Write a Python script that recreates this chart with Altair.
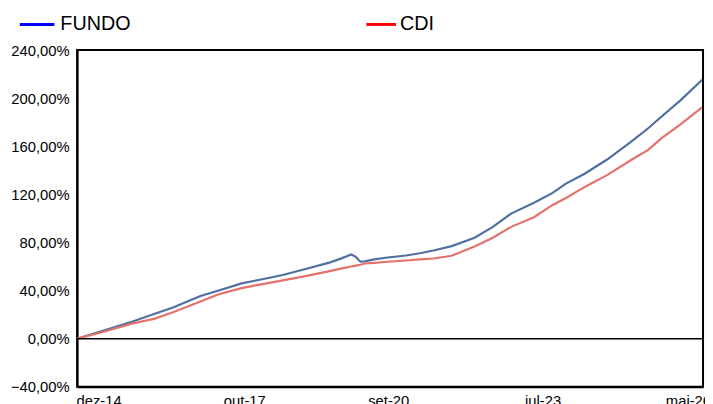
import altair as alt
import pandas as pd

# month index from dez-14 (0) to ~mai-26 (137)
months = [0, 6, 12, 17, 21, 27, 31, 36, 40, 45, 50, 55, 58, 60, 61, 62, 63, 65, 68, 72,
          75, 78, 82, 87, 91, 95, 100, 104, 107, 111, 116, 121, 125, 128, 132, 137]
fundo = [0, 7, 14, 20.8, 26, 35.5, 40, 46, 49, 53, 58, 63, 67, 70, 68, 64, 64.3, 66, 67.5, 69.2,
         71, 73.3, 77, 84, 93, 104, 113, 121, 129, 137, 149, 163, 175, 185, 198, 216]
cdi = [0, 6, 12.5, 16.7, 22, 31, 37, 42, 45, 48.5, 52, 56, 58.5, 60, 60.8, 61.5, 62.5, 63, 64, 65,
       66, 66.7, 69, 76.6, 84, 93, 101, 111, 117, 126, 136, 148, 157, 167, 178, 193]

series_names = ["FUNDO", "CDI"]
line_colors = ["#4F6FA3", "#E5716B"]
legend_colors = ["#0000FF", "#FF0000"]

tick_pos = [4.7, 36.6, 68.1, 101.9, 133.7]
tick_labels = ["dez-14", "out-17", "set-20", "jul-23", "mai-26"]
y_ticks = [-40, 0, 40, 80, 120, 160, 200, 240]
x_dom = [0, 137]
y_dom = [-40, 240]

W, H = 634, 341

rows = []
for m, f, c in zip(months, fundo, cdi):
    rows.append({"m": m, "serie": "FUNDO", "v": f})
    rows.append({"m": m, "serie": "CDI", "v": c})
df = pd.DataFrame(rows)

label_map = "{" + ",".join(f"'{p}':'{l}'" for p, l in zip(tick_pos, tick_labels)) + "}"

xs = alt.Scale(domain=x_dom, nice=False, zero=False)
ys = alt.Scale(domain=y_dom, nice=False)

x = alt.X("m:Q", scale=xs,
          axis=alt.Axis(values=tick_pos, labelExpr=f"{label_map}[toString(datum.value)]",
                        title=None, grid=False, ticks=False,
                        domain=True, domainColor="#000", domainWidth=2,
                        labelFont="Liberation Sans", labelFontSize=15, labelColor="#000",
                        labelPadding=7, labelFlush=False))
y = alt.Y("v:Q", scale=ys,
          axis=alt.Axis(values=y_ticks,
                        labelExpr="replace(format(datum.value, '.2f'), '.', ',') + '%'",
                        title=None, grid=False, ticks=False,
                        domain=True, domainColor="#000", domainWidth=2,
                        labelFont="Liberation Sans", labelFontSize=15, labelColor="#000",
                        labelPadding=8))

lines = alt.Chart(df).mark_line(strokeWidth=2.2).encode(
    x=x, y=y,
    color=alt.Color("serie:N", scale=alt.Scale(domain=series_names, range=line_colors), legend=None),
    detail="serie:N",
)

# zero line and top frame edge, both on the y scale
hl = pd.DataFrame({"v": [0, 240], "w": [1.5, 2]})
hrules = alt.Chart(hl).mark_rule(color="#000").encode(
    y=alt.Y("v:Q", scale=ys),
    strokeWidth=alt.StrokeWidth("w:Q", scale=None),
)
# right frame edge on the x scale
vrule = alt.Chart(pd.DataFrame({"m": [137]})).mark_rule(color="#000", strokeWidth=2).encode(
    x=alt.X("m:Q", scale=xs)
)

leg = pd.DataFrame({
    "serie": series_names,
    "x1": [-58, 293], "x2": [-23, 323], "tx": [-17, 327],
    "col": legend_colors,
})
leg_rules = alt.Chart(leg).mark_rule(strokeWidth=3, clip=False).encode(
    x=alt.X("x1:Q", scale=None), x2="x2:Q", y=alt.value(-26),
    color=alt.Color("col:N", scale=None),
)
leg_text = alt.Chart(leg).mark_text(align="left", baseline="middle", font="Liberation Sans",
                                    fontSize=20, color="#000", clip=False).encode(
    x=alt.X("tx:Q", scale=None), y=alt.value(-26), text="serie:N"
)

chart = alt.layer(lines, hrules, vrule, leg_rules, leg_text).properties(
    width=W, height=H,
    autosize=alt.AutoSizeParams(type="none"),
    padding={"left": 70, "top": 40, "right": 2, "bottom": 30},
).configure(
    background="white",
    view=alt.ViewConfig(stroke="#000", strokeWidth=2),
)

chart.save("out.html", embed_options={"renderer": "svg", "actions": False})
